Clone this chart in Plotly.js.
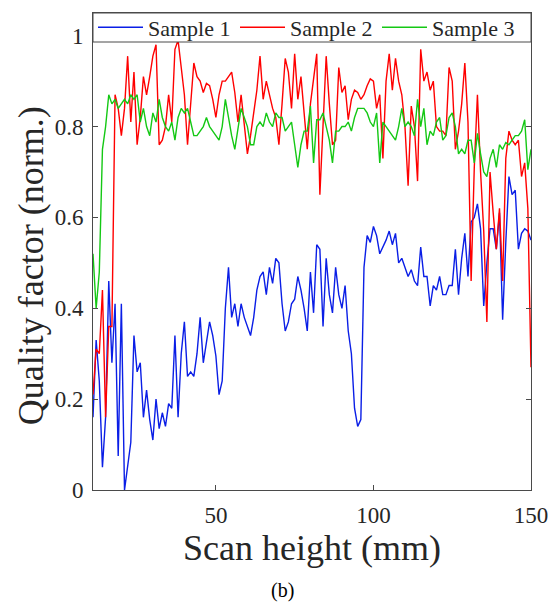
<!DOCTYPE html>
<html>
<head>
<meta charset="utf-8">
<script src="https://cdn.plot.ly/plotly-3.0.1.min.js"></script>
<style>html,body{margin:0;padding:0;background:#fff;}#chart{width:555px;height:605px;}</style>
</head>
<body>
<div id="chart"></div>
<script>
var scanHeight = [11,12,13,14,15,16,17,18,19,20,21,22,23,24,25,26,27,28,29,30,31,32,33,34,35,36,37,38,39,40,41,42,43,44,45,46,47,48,49,50,51,52,53,54,55,56,57,58,59,60,61,62,63,64,65,66,67,68,69,70,71,72,73,74,75,76,77,78,79,80,81,82,83,84,85,86,87,88,89,90,91,92,93,94,95,96,97,98,99,100,101,102,103,104,105,106,107,108,109,110,111,112,113,114,115,116,117,118,119,120,121,122,123,124,125,126,127,128,129,130,131,132,133,134,135,136,137,138,139,140,141,142,143,144,145,146,147,148,149,150];

var sample1 = [0.16,0.33,0.24,0.05,0.16,0.46,0.28,0.41,0.075,0.41,0.0,0.05,0.105,0.34,0.26,0.28,0.16,0.22,0.155,0.11,0.20,0.135,0.17,0.14,0.19,0.18,0.34,0.16,0.30,0.37,0.25,0.26,0.25,0.30,0.38,0.28,0.33,0.37,0.34,0.295,0.21,0.24,0.40,0.49,0.38,0.41,0.36,0.41,0.38,0.36,0.34,0.38,0.44,0.47,0.48,0.43,0.49,0.455,0.51,0.50,0.41,0.35,0.37,0.41,0.42,0.47,0.44,0.40,0.35,0.48,0.39,0.54,0.53,0.36,0.51,0.43,0.39,0.49,0.43,0.40,0.45,0.35,0.30,0.18,0.14,0.155,0.49,0.56,0.545,0.58,0.56,0.52,0.535,0.55,0.57,0.54,0.565,0.50,0.51,0.49,0.47,0.485,0.46,0.45,0.535,0.47,0.47,0.405,0.45,0.44,0.47,0.43,0.43,0.45,0.45,0.53,0.43,0.51,0.565,0.47,0.59,0.60,0.63,0.575,0.405,0.50,0.575,0.575,0.53,0.61,0.375,0.545,0.69,0.65,0.66,0.53,0.565,0.575,0.57,0.55];

var sample2 = [0.21,0.31,0.30,0.44,0.16,0.36,0.36,0.87,0.84,0.78,0.84,0.955,0.81,0.92,0.76,0.82,0.91,0.87,0.91,0.955,0.98,0.76,0.77,0.80,0.87,0.81,0.97,0.99,0.93,0.87,0.76,0.85,0.94,0.91,0.90,0.875,0.895,0.89,0.86,0.82,0.87,0.90,0.90,0.91,0.92,0.875,0.81,0.87,0.80,0.74,0.78,0.83,0.88,0.955,0.86,0.90,0.87,0.84,0.82,0.76,0.85,0.95,0.92,0.84,0.96,0.86,0.91,0.82,0.75,0.85,0.90,0.96,0.65,0.80,0.955,0.85,0.76,0.77,0.93,0.875,0.89,0.815,0.86,0.88,0.875,0.86,0.87,0.89,0.905,0.90,0.84,0.87,0.73,0.90,0.96,0.88,0.95,0.90,0.87,0.80,0.67,0.845,0.80,0.68,0.97,0.90,0.92,0.88,0.90,0.80,0.79,0.79,0.78,0.93,0.90,0.75,0.79,0.85,0.94,0.81,0.46,0.71,0.87,0.70,0.57,0.37,0.70,0.61,0.53,0.62,0.46,0.73,0.79,0.77,0.76,0.77,0.69,0.72,0.62,0.27];

var sample3 = [0.52,0.40,0.48,0.75,0.80,0.87,0.85,0.86,0.84,0.85,0.86,0.85,0.87,0.86,0.87,0.81,0.84,0.80,0.78,0.83,0.81,0.86,0.82,0.80,0.79,0.81,0.77,0.82,0.84,0.83,0.84,0.81,0.78,0.78,0.79,0.80,0.82,0.80,0.79,0.78,0.77,0.80,0.86,0.82,0.78,0.75,0.80,0.84,0.82,0.80,0.76,0.76,0.80,0.81,0.80,0.83,0.81,0.80,0.83,0.82,0.82,0.79,0.80,0.81,0.76,0.71,0.76,0.79,0.79,0.845,0.72,0.815,0.815,0.83,0.80,0.77,0.72,0.79,0.79,0.80,0.80,0.81,0.79,0.82,0.84,0.84,0.84,0.83,0.81,0.80,0.83,0.72,0.81,0.80,0.79,0.78,0.77,0.80,0.84,0.80,0.81,0.80,0.78,0.86,0.80,0.84,0.76,0.79,0.78,0.81,0.82,0.77,0.78,0.82,0.83,0.80,0.74,0.75,0.74,0.77,0.77,0.72,0.785,0.74,0.70,0.69,0.73,0.75,0.71,0.76,0.75,0.765,0.76,0.77,0.78,0.78,0.79,0.815,0.705,0.75];

var seriesNames = ['Sample 1','Sample 2','Sample 3'];
var yTickVals = [0,0.2,0.4,0.6,0.8,1];
var yTickText = ['0','0.2','0.4','0.6','0.8','1'];
var xTickVals = [50,100,150];

var FONT = '"Liberation Serif", "Times New Roman", serif';
var TXT = '#262626';
var AX = '#4a4a4a';

var traces = [
  {x: scanHeight, y: sample1, name: seriesNames[0], type: 'scatter', mode: 'lines', line: {color: '#0a1ee6', width: 1.4}},
  {x: scanHeight, y: sample2, name: seriesNames[1], type: 'scatter', mode: 'lines', line: {color: '#ff0000', width: 1.4}},
  {x: scanHeight, y: sample3, name: seriesNames[2], type: 'scatter', mode: 'lines', line: {color: '#14c814', width: 1.4}}
];

var layout = {
  width: 555, height: 605,
  margin: {l: 93, r: 24, t: 13, b: 115, pad: 0, autoexpand: false},
  paper_bgcolor: '#ffffff', plot_bgcolor: '#ffffff',
  font: {family: FONT, color: TXT},
  showlegend: true,
  legend: {
    orientation: 'h', x: 0, y: 0.9696, xanchor: 'left', yanchor: 'middle',
    bgcolor: 'rgba(0,0,0,0)', borderwidth: 0,
    font: {family: FONT, size: 22, color: TXT},
    itemwidth: 45, entrywidth: 82, entrywidthmode: 'pixels',
    tracegroupgap: 0, itemclick: false
  },
  shapes: [
    {type: 'rect', xref: 'paper', yref: 'paper', x0: 0, x1: 1, y0: 0.9392, y1: 1, layer: 'above',
     fillcolor: '#ffffff', line: {color: AX, width: 1}}
  ],
  xaxis: {
    range: [11, 150], tickvals: xTickVals, ticks: 'inside', ticklen: 5, tickwidth: 1, tickcolor: AX,
    showline: true, linecolor: AX, linewidth: 1, mirror: 'ticks', showgrid: false, zeroline: false,
    tickfont: {family: FONT, size: 23, color: TXT}, ticklabelstandoff: 4,
    title: {text: 'Scan height (mm)', font: {family: FONT, size: 36, color: TXT}, standoff: 4}
  },
  yaxis: {
    range: [0, 1.05], tickvals: yTickVals, ticktext: yTickText, ticks: 'inside', ticklen: 5, tickwidth: 1, tickcolor: AX,
    showline: true, linecolor: AX, linewidth: 1, mirror: 'ticks', showgrid: false, zeroline: false,
    tickfont: {family: FONT, size: 23, color: TXT}, ticklabelstandoff: 4
  },
  annotations: [
    {text: 'Quality factor (norm.)', textangle: -90, xref: 'paper', yref: 'paper', x: -0.143, y: 0.47,
     xanchor: 'center', yanchor: 'middle', showarrow: false, font: {family: FONT, size: 36, color: TXT}},
    {text: '(b)', xref: 'paper', yref: 'paper', x: 0.433, y: -0.21, xanchor: 'center', yanchor: 'middle', showarrow: false,
     font: {family: FONT, size: 20, color: '#000000'}}
  ]
};

Plotly.newPlot('chart', traces, layout, {displayModeBar: false, staticPlot: true});
</script>
</body>
</html>
